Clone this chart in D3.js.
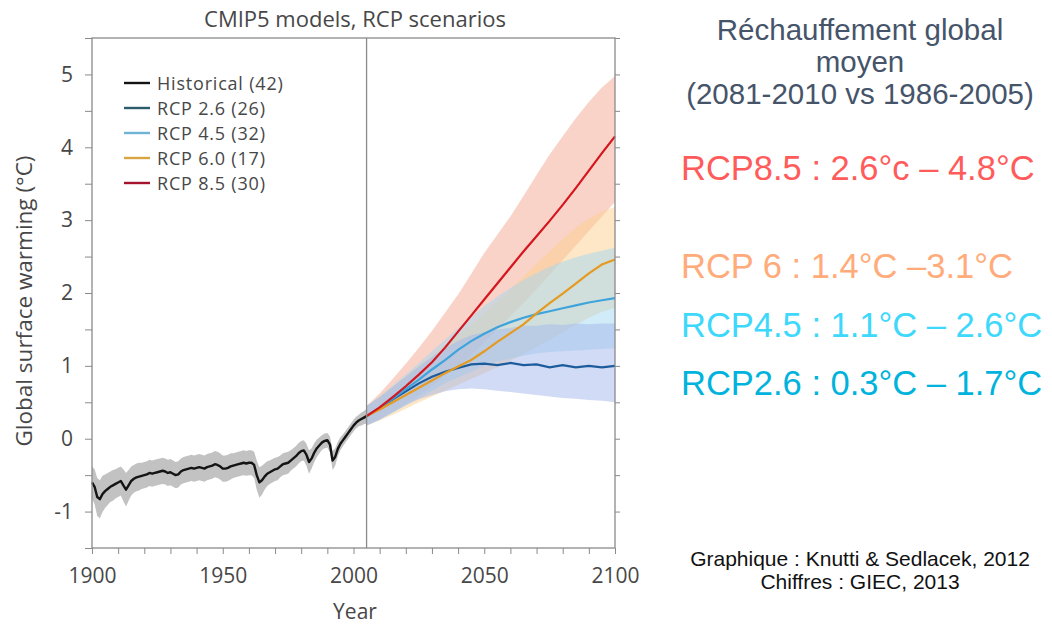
<!DOCTYPE html>
<html>
<head>
<meta charset="utf-8">
<title>CMIP5 models, RCP scenarios</title>
<style>
body { margin: 0; background: #fff; }
svg { display: block; }
.plot text { font-family: "Open Sans", sans-serif; fill: #474747; }
.note { font-family: "Liberation Sans", Arial, sans-serif; }
</style>
</head>
<body>
<svg width="1052" height="626"></svg>
<script src="https://d3js.org/d3.v7.min.js"></script>
<script>
// historical ensemble mean (1900-2005) and half spread of the grey band
var histYears = d3.range(1900, 2006);
var histMean = [
  -0.60,-0.66,-0.80,-0.83,-0.76,-0.72,-0.69,-0.66,-0.64,-0.62,
  -0.60,-0.58,-0.64,-0.70,-0.64,-0.58,-0.55,-0.53,-0.52,-0.51,
  -0.50,-0.49,-0.47,-0.48,-0.47,-0.46,-0.45,-0.44,-0.45,-0.47,
  -0.46,-0.48,-0.50,-0.49,-0.45,-0.43,-0.42,-0.41,-0.40,-0.41,
  -0.40,-0.39,-0.40,-0.41,-0.39,-0.38,-0.37,-0.35,-0.36,-0.38,
  -0.41,-0.41,-0.40,-0.38,-0.37,-0.36,-0.35,-0.34,-0.33,-0.34,
  -0.33,-0.33,-0.36,-0.50,-0.60,-0.57,-0.52,-0.48,-0.46,-0.44,
  -0.42,-0.41,-0.38,-0.35,-0.34,-0.33,-0.30,-0.27,-0.24,-0.20,
  -0.17,-0.16,-0.22,-0.32,-0.27,-0.19,-0.13,-0.09,-0.05,-0.03,
  -0.02,-0.08,-0.30,-0.25,-0.14,-0.07,-0.02, 0.03, 0.08, 0.13,
   0.18, 0.22, 0.25, 0.27, 0.29, 0.31
];
var histSpread = [
  0.22,0.24,0.26,0.26,0.25,0.23,0.22,0.21,0.21,0.20,
  0.20,0.20,0.22,0.23,0.21,0.20,0.19,0.19,0.19,0.18,
  0.18,0.18,0.18,0.18,0.18,0.18,0.18,0.18,0.18,0.18,
  0.18,0.18,0.18,0.18,0.18,0.18,0.18,0.18,0.18,0.18,
  0.18,0.18,0.18,0.18,0.18,0.18,0.18,0.18,0.18,0.18,
  0.18,0.18,0.18,0.18,0.17,0.17,0.17,0.17,0.17,0.17,
  0.17,0.17,0.18,0.20,0.21,0.20,0.18,0.17,0.16,0.16,
  0.16,0.16,0.15,0.15,0.15,0.15,0.14,0.14,0.14,0.14,
  0.14,0.14,0.15,0.16,0.14,0.13,0.12,0.11,0.10,0.10,
  0.10,0.11,0.13,0.12,0.10,0.09,0.08,0.08,0.08,0.08,
  0.08,0.08,0.08,0.09,0.09,0.10
];

// scenario projections, every 5 years 2005-2100
var futYears = [2005,2010,2015,2020,2025,2030,2035,2040,2045,2050,
                2055,2060,2065,2070,2075,2080,2085,2090,2095,2100];
var rcp26 = [0.31,0.42,0.54,0.65,0.76,0.85,0.92,0.97,1.02,1.03,1.01,1.04,1.01,1.02,0.98,1.01,0.98,1.00,0.98,1.00];
var rcp26Lo = [0.18,0.26,0.36,0.46,0.54,0.60,0.65,0.68,0.69,0.68,0.66,0.64,0.62,0.60,0.58,0.56,0.55,0.53,0.52,0.50];
var rcp26Hi = [0.45,0.57,0.71,0.85,0.99,1.12,1.24,1.34,1.42,1.46,1.50,1.52,1.55,1.55,1.57,1.56,1.58,1.57,1.58,1.58];
var rcp45 = [0.31,0.42,0.55,0.68,0.81,0.95,1.08,1.22,1.34,1.44,1.53,1.60,1.66,1.71,1.75,1.79,1.83,1.87,1.90,1.93];
var rcp45Lo = [0.18,0.26,0.36,0.46,0.56,0.66,0.76,0.84,0.92,1.00,1.06,1.10,1.14,1.17,1.19,1.20,1.21,1.22,1.23,1.24];
var rcp45Hi = [0.45,0.58,0.73,0.88,1.04,1.20,1.36,1.52,1.67,1.82,1.95,2.07,2.18,2.27,2.36,2.43,2.49,2.54,2.58,2.62];
var rcp60 = [0.31,0.40,0.50,0.60,0.70,0.80,0.90,0.99,1.08,1.20,1.33,1.45,1.57,1.72,1.86,1.99,2.13,2.27,2.39,2.46];
var rcp60Lo = [0.18,0.25,0.33,0.41,0.50,0.58,0.66,0.74,0.82,0.90,0.98,1.07,1.16,1.26,1.36,1.46,1.56,1.66,1.74,1.80];
var rcp60Hi = [0.45,0.58,0.72,0.86,1.00,1.14,1.28,1.42,1.56,1.72,1.88,2.05,2.22,2.40,2.57,2.74,2.90,3.02,3.12,3.18];
var rcp85 = [0.31,0.43,0.57,0.72,0.88,1.05,1.25,1.47,1.69,1.91,2.13,2.35,2.57,2.78,2.99,3.21,3.44,3.68,3.92,4.15];
var rcp85Lo = [0.18,0.27,0.37,0.48,0.60,0.72,0.86,1.00,1.15,1.32,1.50,1.68,1.86,2.05,2.25,2.45,2.65,2.85,3.05,3.25];
var rcp85Hi = [0.45,0.62,0.82,1.03,1.25,1.48,1.73,1.98,2.26,2.55,2.80,3.05,3.33,3.62,3.90,4.15,4.40,4.62,4.82,4.98];

var legendLabels = ["Historical (42)", "RCP 2.6 (26)", "RCP 4.5 (32)", "RCP 6.0 (17)", "RCP 8.5 (30)"];
var xTickLabels = [1900, 1950, 2000, 2050, 2100];
var yTickLabels = [-1, 0, 1, 2, 3, 4, 5];

var noteTitle = ["Réchauffement global", "moyen", "(2081-2010 vs 1986-2005)"];
var noteRanges = ["RCP8.5 : 2.6°c – 4.8°C", "RCP 6 : 1.4°C –3.1°C", "RCP4.5 : 1.1°C – 2.6°C", "RCP2.6 : 0.3°C – 1.7°C"];
var noteSource = ["Graphique : Knutti & Sedlacek, 2012", "Chiffres : GIEC, 2013"];

var svg = d3.select("svg");

var x = d3.scaleLinear().domain([1900, 2100]).range([92, 615]);
var y = d3.scaleLinear().domain([-1.5, 5.5]).range([548, 38]);

var plot = svg.append("g").attr("class", "plot");

// scenario styles: band colour, line colour
var scen = [
  {name: "rcp85", mean: rcp85, lo: rcp85Lo, hi: rcp85Hi, band: "#f5a792", line: "#d4161f"},
  {name: "rcp60", mean: rcp60, lo: rcp60Lo, hi: rcp60Hi, band: "#fbcf8e", line: "#e59a22"},
  {name: "rcp45", mean: rcp45, lo: rcp45Lo, hi: rcp45Hi, band: "#a4d8f2", line: "#3fa3dc"},
  {name: "rcp26", mean: rcp26, lo: rcp26Lo, hi: rcp26Hi, band: "#a3b8ec", line: "#1d5c9c"}
];

var area = d3.area()
    .x(function(d) { return x(d.year); })
    .y0(function(d) { return y(d.lo); })
    .y1(function(d) { return y(d.hi); });

var line = d3.line()
    .x(function(d) { return x(d.year); })
    .y(function(d) { return y(d.v); });

//bands
scen.forEach(function(s) {
  var rows = futYears.map(function(yr, i) { return {year: yr, lo: s.lo[i], hi: s.hi[i]}; });
  plot.append("path")
      .datum(rows)
      .attr("d", area)
      .attr("fill", s.band)
      .attr("fill-opacity", 0.5);
});

var histRows = histYears.map(function(yr, i) {
  return {year: yr, v: histMean[i], lo: histMean[i] - histSpread[i], hi: histMean[i] + histSpread[i]};
});
plot.append("path")
    .datum(histRows)
    .attr("d", area)
    .attr("fill", "#c2c2c2");

//lines, blue first so red sits on top
scen.slice().reverse().forEach(function(s) {
  var rows = futYears.map(function(yr, i) { return {year: yr, v: s.mean[i]}; });
  plot.append("path")
      .datum(rows)
      .attr("d", line)
      .attr("fill", "none")
      .attr("stroke", s.line)
      .attr("stroke-width", 2.2);
});

plot.append("path")
    .datum(histRows)
    .attr("d", line)
    .attr("fill", "none")
    .attr("stroke", "#141414")
    .attr("stroke-width", 2.4)
    .attr("stroke-linejoin", "round");

//frame
var frameColor = "#8a8a8a";
plot.append("rect")
    .attr("x", x(1900)).attr("y", y(5.5))
    .attr("width", x(2100) - x(1900)).attr("height", y(-1.5) - y(5.5))
    .attr("fill", "none").attr("stroke", frameColor).attr("stroke-width", 1.3);
plot.append("line")
    .attr("x1", x(2005)).attr("x2", x(2005))
    .attr("y1", y(5.5)).attr("y2", y(-1.5))
    .attr("stroke", frameColor).attr("stroke-width", 1.3);

//axes
var yAxis = plot.append("g")
    .attr("transform", "translate(" + x(1900) + ",0)")
    .call(d3.axisLeft(y).tickValues(d3.range(-1.5, 5.51, 0.5)).tickSize(7).tickPadding(12)
      .tickFormat(function(d) { return yTickLabels.indexOf(d) >= 0 ? d3.format("d")(d).replace("−", "-") : ""; }));
yAxis.select(".domain").remove();
yAxis.selectAll("line").attr("stroke", frameColor);
yAxis.selectAll("text").attr("font-size", 21).attr("font-family", "Open Sans").attr("fill", "#474747");

var yAxisR = plot.append("g")
    .attr("transform", "translate(" + x(2100) + ",0)")
    .call(d3.axisRight(y).tickValues(d3.range(-1, 5.51, 0.5)).tickSize(5).tickFormat(""));
yAxisR.select(".domain").remove();
yAxisR.selectAll("line").attr("stroke", frameColor);

var xAxis = plot.append("g")
    .attr("transform", "translate(0," + y(-1.5) + ")")
    .call(d3.axisBottom(x).tickValues(d3.range(1900, 2101, 10)).tickSize(6).tickPadding(14)
      .tickFormat(function(d) { return xTickLabels.indexOf(d) >= 0 ? d : ""; }));
xAxis.select(".domain").remove();
xAxis.selectAll("line").attr("stroke", frameColor);
xAxis.selectAll("text").attr("font-size", 21).attr("font-family", "Open Sans").attr("fill", "#474747");

//titles
plot.append("text")
    .attr("x", 355).attr("y", 27)
    .attr("text-anchor", "middle").attr("font-size", 22)
    .text("CMIP5 models, RCP scenarios");
plot.append("text")
    .attr("x", 355).attr("y", 619)
    .attr("text-anchor", "middle").attr("font-size", 21)
    .text("Year");
plot.append("text")
    .attr("transform", "translate(32,301) rotate(-90)")
    .attr("text-anchor", "middle").attr("font-size", 22.5)
    .text("Global surface warming (°C)");

//legend
var legColors = ["#141414", "#2b5c6c", "#6fb4d4", "#d9a542", "#a5122e"];
var leg = plot.append("g").attr("transform", "translate(124,83)");
legendLabels.forEach(function(lbl, i) {
  leg.append("line")
      .attr("x1", 0).attr("x2", 26).attr("y1", i * 25).attr("y2", i * 25)
      .attr("stroke", legColors[i]).attr("stroke-width", 2.4);
  leg.append("text")
      .attr("x", 33).attr("y", i * 25 + 6.5)
      .attr("font-size", 18)
      .attr("letter-spacing", 0.8)
      .text(lbl);
});

//notes on the right
var notes = svg.append("g").attr("class", "note");
noteTitle.forEach(function(t, i) {
  notes.append("text")
      .attr("x", 860).attr("y", 40 + i * 32)
      .attr("text-anchor", "middle").attr("font-size", 29.5)
      .attr("fill", "#46546a")
      .text(t);
});
var rangeColors = ["#ff5b5b", "#ffab7a", "#3dd8fb", "#00b3dc"];
var rangeY = [180, 278, 337, 395];
noteRanges.forEach(function(t, i) {
  notes.append("text")
      .attr("x", 681).attr("y", rangeY[i])
      .attr("font-size", 34.5)
      .attr("fill", rangeColors[i])
      .text(t);
});
noteSource.forEach(function(t, i) {
  notes.append("text")
      .attr("x", 860).attr("y", 566 + i * 23)
      .attr("text-anchor", "middle").attr("font-size", 21)
      .attr("fill", "#111")
      .text(t);
});
</script>
</body>
</html>
